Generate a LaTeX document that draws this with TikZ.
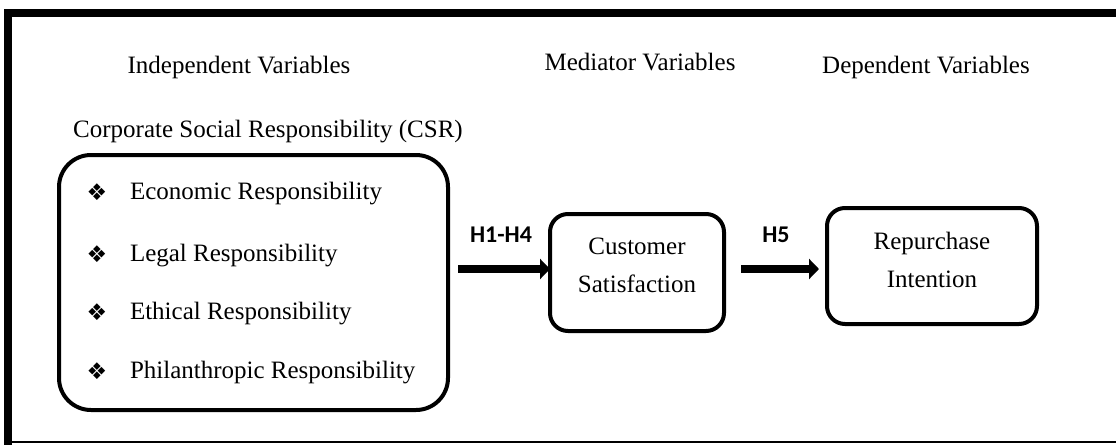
\documentclass[tikz,border=0pt]{standalone}
\usepackage{fontspec}
\setmainfont{Liberation Serif}
\newfontfamily\hypfont{Carlito}
\newfontfamily\bulletfont{DejaVu Sans}
\usetikzlibrary{positioning}
\usetikzlibrary{arrows.meta}
\tikzset{every node/.style={inner sep=0pt, outer sep=0pt, font=\fontsize{12.5}{19}\selectfont}}
\tikzset{varbox/.style={draw=black, line width=2pt, rounded corners=9pt}}
\tikzset{flow/.style={line width=4pt, -{Triangle[length=5pt,width=10pt]}}}
\tikzset{hyp/.style={font=\hypfont\bfseries\fontsize{12}{14}\selectfont}}
\tikzset{bul/.style={font=\bulletfont\fontsize{11.5}{12}\selectfont}}

\begin{document}
\begin{tikzpicture}[x=0.5pt,y=-0.5pt]
    \useasboundingbox (0,0) rectangle (1116,445);
    \draw[line width=4pt] (1116,13) -- (8,13) -- (8,445);
    \draw[line width=1pt] (8,442) -- (1116,442);

    \node[anchor=base] (indep) at (239,73) {Independent Variables};
    \node[anchor=base] (medi) at (640,70) {Mediator Variables};
    \node[anchor=base] (dep) at (926,73) {Dependent Variables};
    \node[anchor=base] (csr) at (268,137) {Corporate Social Responsibility (CSR)};

    \node[varbox,rounded corners=16pt,minimum width=194.5pt,minimum height=127.5pt] (csrbox) at (253.5,282.5) {};
    \foreach \nm/\yy/\txt in {econ/199/Economic Responsibility, legal/261/Legal Responsibility, ethic/319/Ethical Responsibility, phil/378/Philanthropic Responsibility} {
        \node[bul] (\nm-b) at (97,\yy-7) {❖};
        \node[anchor=base west] (\nm) at (130,\yy) {\txt};
    }

    \node[varbox,minimum width=87pt,minimum height=58.5pt] (satbox) at (637,272.5) {};
    \node[align=center,below=12pt of satbox.north] (sattext) {Customer\\Satisfaction};

    \node[varbox,minimum width=105pt,minimum height=58pt] (repbox) at (932,266) {};
    \node[align=center,below=12pt of repbox.north] (reptext) {Repurchase\\Intention};

    \coordinate (h1start) at (458,269);
    \draw[flow] (h1start) -- (h1start -| satbox.west);
    \draw[flow] ([xshift=8.5pt,yshift=1.75pt]satbox.east) -- ([xshift=-4pt,yshift=-1.5pt]repbox.west);

    \node[hyp] (h1) at (501,235) {H1-H4};
    \node[hyp] (h5) at (776,235) {H5};
\end{tikzpicture}
\end{document}
